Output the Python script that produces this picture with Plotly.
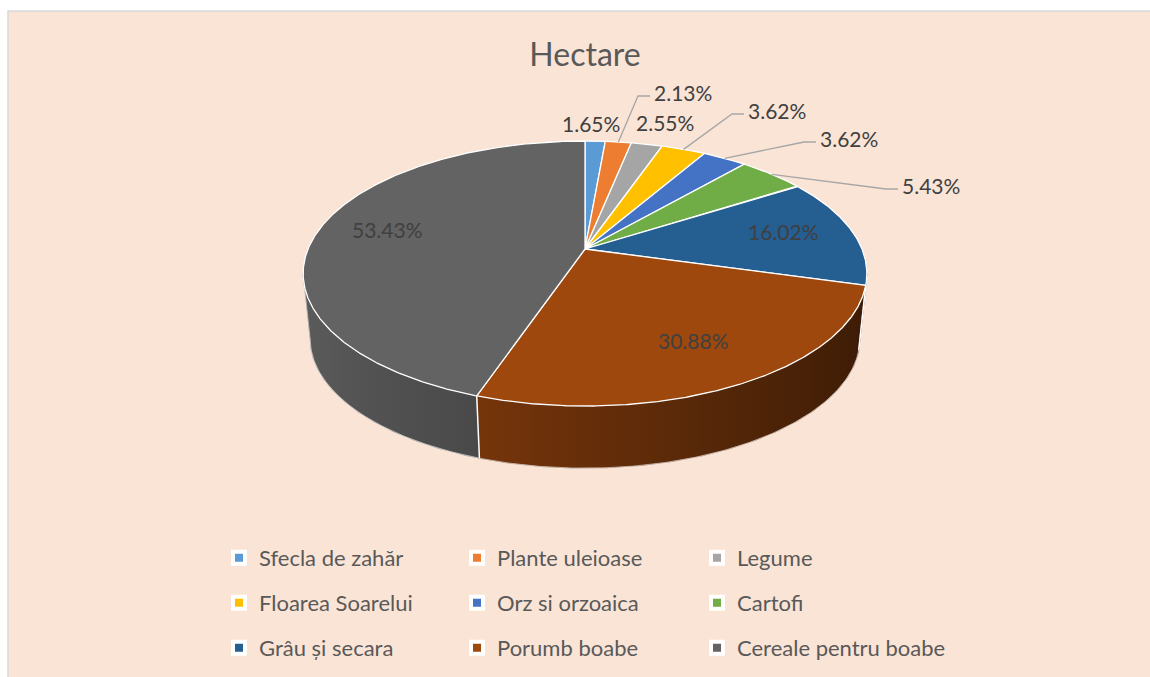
import numpy as np
import plotly.graph_objects as go

# ---- data -------------------------------------------------------------
categories = ["Sfecla de zahăr", "Plante uleioase", "Legume", "Floarea Soarelui",
              "Orz si orzoaica", "Cartofi", "Grâu și secara", "Porumb boabe",
              "Cereale pentru boabe"]
values = [1.65, 2.13, 2.55, 3.62, 3.62, 5.43, 16.02, 30.88, 53.43]
colors = ["#5B9BD5", "#ED7D31", "#A5A5A5", "#FFC000", "#4472C4", "#70AD47",
          "#255E91", "#9E480E", "#636363"]

# ---- geometry of the tilted disc (pixel space) -------------------------
W, H = 1150, 677
CX, CY = 585.0, 249.0          # projected centre of the top face
AX, BY = 277.0, 128.0          # horizontal / vertical radius factors
K = 0.185                      # perspective foreshortening
DROP = 66.0                    # slab thickness
BOTTOM_SCALE = 0.975           # bottom face sits slightly farther away

FONT = "Lato"
LABEL_COLOR = "#404040"


def project(theta_deg, r=1.0, bottom=False):
    t = np.radians(theta_deg)
    u = r * np.sin(t)
    v = r * np.cos(t)
    d = 1 + K * v
    x = CX + AX * u / d
    y = CY - BY * v / d
    if bottom:
        x = CX + (x - CX) * BOTTOM_SCALE
        y = CY + (y - CY) * BOTTOM_SCALE + DROP
    return x, y


def arc(a0, a1, r=1.0, bottom=False, step=0.5):
    n = max(2, int(np.ceil(abs(a1 - a0) / step)) + 1)
    th = np.linspace(a0, a1, n)
    return project(th, r, bottom)


def shade(hex_color, f):
    h = hex_color.lstrip("#")
    rgb = [int(h[i:i + 2], 16) for i in (0, 2, 4)]
    return "rgb({},{},{})".format(*[max(0, min(255, int(round(c * f)))) for c in rgb])


def side_factor(theta_deg):
    return 0.65 - 0.28 * np.sin(np.radians(theta_deg))


total = float(sum(values))
bounds = np.concatenate([[0.0], np.cumsum(values)]) / total * 360.0
mids = (bounds[:-1] + bounds[1:]) / 2

sil = np.degrees(np.arcsin(K))
TH_R, TH_L = 90.0 + sil, 270.0 - sil   # visible part of the rim

fig = go.Figure()

# ---- rim (side walls) ---------------------------------------------------
for i, c in enumerate(colors):
    s0, s1 = max(bounds[i], TH_R), min(bounds[i + 1], TH_L)
    if s1 <= s0:
        continue
    tx, ty = arc(s0, s1)
    bx, by = arc(s1, s0, bottom=True)
    px = np.concatenate([tx, bx, [tx[0]]])
    py = np.concatenate([ty, by, [ty[0]]])
    xmin, xmax = float(tx.min()), float(tx.max())
    th = np.linspace(s0, s1, 12)
    sx, _ = project(th)
    if xmax - xmin < 1e-6:
        xmax = xmin + 1
    stops = sorted(zip((sx - xmin) / (xmax - xmin), th))
    scale = []
    for k, (p, t) in enumerate(stops):
        p = 0.0 if k == 0 else (1.0 if k == len(stops) - 1 else float(min(max(p, 0), 1)))
        scale.append([p, shade(c, side_factor(t))])
    fig.add_trace(go.Scatter(
        x=px, y=py, mode="lines", fill="toself",
        fillgradient=dict(type="horizontal", colorscale=scale, start=xmin, stop=xmax),
        line=dict(width=0.6, color=shade(c, side_factor((s0 + s1) / 2))),
        hoverinfo="skip", showlegend=False))

# bottom rim edge
bx, by = arc(TH_R, TH_L, bottom=True)
fig.add_trace(go.Scatter(x=bx, y=by, mode="lines",
                         line=dict(color="rgba(255,255,255,0.55)", width=1),
                         hoverinfo="skip", showlegend=False))

# vertical edges: slice boundaries on the rim and the silhouettes
for a, col, w in ([(b, "white", 1.5) for b in bounds[1:-1] if TH_R < b < TH_L]
                  + [(TH_R, "rgba(255,255,255,0.45)", 1), (TH_L, "rgba(255,255,255,0.45)", 1)]):
    x0, y0 = project(a)
    x1, y1 = project(a, bottom=True)
    fig.add_trace(go.Scatter(x=[x0, x1], y=[y0, y1], mode="lines",
                             line=dict(color=col, width=w),
                             hoverinfo="skip", showlegend=False))

# ---- top faces ------------------------------------------------------------
for i, c in enumerate(colors):
    ax_, ay_ = arc(bounds[i], bounds[i + 1], step=0.3)
    px = np.concatenate([[CX], ax_, [CX]])
    py = np.concatenate([[CY], ay_, [CY]])
    fig.add_trace(go.Scatter(x=px, y=py, mode="lines", fill="toself",
                             fillcolor=c, line=dict(color="white", width=1.3),
                             hoverinfo="skip", showlegend=False))

# ---- data labels ----------------------------------------------------------
# large slices: label inside the top face
INSIDE_R = 0.74
# small slices: label outside, optional leader line with an elbow
OUTSIDE_POS = {0: (591, 123), 1: (683, 92), 2: (665, 122),
               3: (777, 110), 4: (849, 138), 5: (931, 185)}
WITH_LEADER = {1, 3, 4, 5}

annotations = []
for i, v in enumerate(values):
    txt = f"{v:.2f}%"
    if i in OUTSIDE_POS:
        lx, ly = OUTSIDE_POS[i]
        if i in WITH_LEADER:
            sx, sy = project(mids[i])
            ex, ey = lx - 33, ly + 4
            fig.add_trace(go.Scatter(x=[sx, ex - 12, ex], y=[sy, ey, ey], mode="lines",
                                     line=dict(color="#A6A6A6", width=1.3),
                                     hoverinfo="skip", showlegend=False))
    else:
        lx, ly = project(mids[i], INSIDE_R)
        ly -= 4
    annotations.append(dict(x=float(lx), y=float(ly), xref="x", yref="y", text=txt,
                            showarrow=False, xanchor="center", yanchor="middle",
                            font=dict(family=FONT, size=21, color=LABEL_COLOR)))

# ---- legend: a 3 x 3 grid, one small legend per cell -----------------------
ROW_Y = [558, 603, 648]
COL_X = [219, 457, 697]
legend_font = dict(family=FONT, size=22, color="#595959")
for i, (name, c) in enumerate(zip(categories, colors)):
    key = "legend" if i == 0 else f"legend{i + 1}"
    fig.add_trace(go.Scatter(
        x=[None], y=[None], mode="markers", name=name,
        marker=dict(symbol="square", size=12, color=c, line=dict(color="white", width=4)),
        legend=key, hoverinfo="skip"))
    fig.update_layout(**{key: dict(
        orientation="h", xanchor="left", yanchor="middle",
        x=COL_X[i % 3] / W, y=1 - ROW_Y[i // 3] / H,
        font=legend_font, bgcolor="rgba(0,0,0,0)",
        itemclick=False, itemdoubleclick=False)})

# ---- layout ---------------------------------------------------------------
fig.update_layout(
    width=W, height=H,
    margin=dict(l=0, r=0, t=0, b=0),
    paper_bgcolor="white",
    plot_bgcolor="rgba(0,0,0,0)",
    xaxis=dict(range=[0, W], visible=False, fixedrange=True),
    yaxis=dict(range=[H, 0], visible=False, fixedrange=True),
    title=dict(text="Hectare", x=585 / W, y=1 - 55 / H, xanchor="center", yanchor="middle",
               xref="paper", yref="paper",
               font=dict(family=FONT, size=32, color="#595959")),
    annotations=annotations,
    shapes=[dict(type="rect", xref="x", yref="y", x0=8, y0=11, x1=W + 10, y1=H + 10,
                 fillcolor="#FAE4D6", line=dict(color="#D9D9D9", width=1.5), layer="below")],
    showlegend=True,
)

fig.write_html("out.html")
